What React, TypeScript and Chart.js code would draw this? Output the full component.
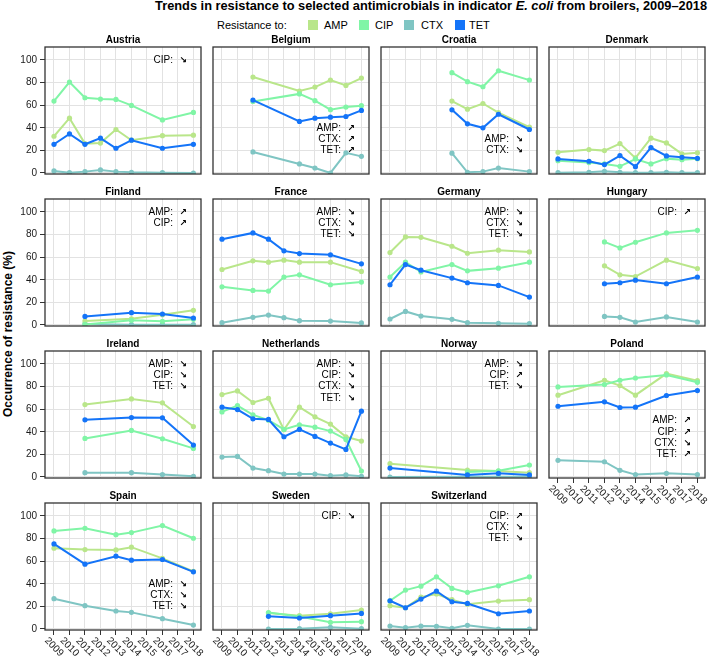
import React, { useEffect, useRef } from "react";
import { Chart, registerables } from "chart.js";
Chart.register(...registerables);

// ---------------- data ----------------
const years = [2009, 2010, 2011, 2012, 2013, 2014, 2015, 2016, 2017, 2018];
const countries = [
  "Austria", "Belgium", "Croatia", "Denmark",
  "Finland", "France", "Germany", "Hungary",
  "Ireland", "Netherlands", "Norway", "Poland",
  "Spain", "Sweden", "Switzerland",
];
const antimicrobials = ["AMP", "CIP", "CTX", "TET"];
const seriesColors = ["#b9e68a", "#80f5a6", "#7fc5c3", "#1474f8"];
const yTickValues = [0, 20, 40, 60, 80, 100];

// values per year 2009..2018 (null = not tested)
const ampAustria = [32.5, 48.5, 26, 26.5, 38.5, 29, null, 33, null, 33.5];
const cipAustria = [63.6, 80.5, 66.6, 65.4, 65.1, 59.8, null, 47, null, 53.6];
const ctxAustria = [1.8, 0.3, 1.2, 2.7, 1.2, 0.6, null, 0.3, null, 0];
const tetAustria = [25.4, 34.6, 25.4, 30.8, 21.9, 29, null, 21.9, null, 25.4];

const ampBelgium = [null, null, 84.9, null, null, 72.5, 76, 82.2, 77.5, 84];
const cipBelgium = [null, null, 63.3, null, null, 70, 64, 56, 58.3, 59.6];
const ctxBelgium = [null, null, 18.6, null, null, 8, 4.4, 0, 17.8, 14.7];
const tetBelgium = [null, null, 64.5, null, null, 45.6, 48.5, 49.4, 50, 55.4];

const ampCroatia = [null, null, null, null, 63.6, 56.5, 61.5, 53.5, null, 40.5];
const cipCroatia = [null, null, null, null, 88.8, 80.8, 76.3, 90.5, null, 82.2];
const ctxCroatia = [null, null, null, null, 17.5, 0.6, 1.2, 4.4, null, 1.2];
const tetCroatia = [null, null, null, null, 55.9, 43.5, 40, 52, null, 38.5];

const ampDenmark = [18.3, null, 20.7, 19.8, 26, 13.3, 30.8, 26.6, 16.9, 17.8];
const cipDenmark = [10.9, null, 9.2, 8, 5.9, 12.4, 8, 12.7, 11.8, 12.7];
const ctxDenmark = [0.3, null, 0.6, 1.5, 0.6, 0.3, 0.3, 0.6, 0.3, 0.3];
const tetDenmark = [12.4, null, 10.4, 7.4, 15.4, 5.6, 22.5, 15.1, 13.9, 13];

const ampFinland = [null, null, 3.5, null, null, 5.5, null, 9, null, 13];
const cipFinland = [null, null, 0.5, null, null, 4.1, null, 3.2, null, 5];
const ctxFinland = [null, null, 0.9, null, null, 0.3, null, 0.3, null, 0.3];
const tetFinland = [null, null, 7.6, null, null, 10.9, null, 9.7, null, 6.2];

const ampFrance = [49.1, null, 56.8, 55.6, 57.4, 55.6, null, 55.6, null, 47.4];
const cipFrance = [33.8, null, 30.6, 30, 42.4, 44.4, null, 35.6, null, 38];
const ctxFrance = [2, null, 6.8, 8.8, 6.5, 3.8, null, 3.5, null, 1.8];
const tetFrance = [75.9, null, 81.5, 75.9, 65.6, 63.2, null, 62.1, null, 54.1];

const ampGermany = [64.1, 77.9, 77.6, null, 69.7, 63.5, null, 66.2, null, 64.7];
const cipGermany = [42.4, 55.6, 47, null, 53.5, 47.9, null, 50.3, null, 55.6];
const ctxGermany = [5.3, 12, 7.9, null, 5, 2, null, 1.5, null, 1.2];
const tetGermany = [35.6, 53.5, 48.5, null, 41.5, 37.4, null, 35, null, 24.7];

const ampHungary = [null, null, null, 52.4, 44.4, 42.9, null, 57.4, null, 50];
const cipHungary = [null, null, null, 73.5, 68.2, 73.2, null, 81.5, null, 83.8];
const ctxHungary = [null, null, null, 7.6, 6.8, 2.6, null, 7.1, null, 2.6];
const tetHungary = [null, null, null, 36.5, 37.4, 39.7, null, 36.5, null, 42.4];

const ampIreland = [null, null, 64.1, null, null, 69.1, null, 65.6, null, 44.7];
const cipIreland = [null, null, 34.1, null, null, 41.2, null, 33.8, null, 25.3];
const ctxIreland = [null, null, 3.8, null, null, 3.8, null, 2.1, null, 0.6];
const tetIreland = [null, null, 50.6, null, null, 52.6, null, 52.4, null, 28.2];

const ampNetherlands = [72.9, 76.2, 65.9, 69.7, 41.8, 61.8, 53.2, 46.8, 35.6, 31.8];
const cipNetherlands = [57.6, 63.2, 55, 50.3, 42.1, 46.2, 44.1, 40.6, 33.2, 5.3];
const ctxNetherlands = [17.6, 18.2, 7.9, 5.6, 2.6, 2.6, 2.6, 1.2, 1.8, 0.6];
const tetNetherlands = [61.8, 59.7, 51.5, 50.9, 35.6, 42.1, 35.9, 30, 24.4, 58.2];

const ampNorway = [11.8, null, null, null, null, 6.2, null, 5.3, null, 3.8];
const cipNorway = [null, null, null, null, null, 4.5, null, 5.5, null, 10.6];
const ctxNorway = [0, null, null, null, null, 0.3, null, 0.3, null, 0.3];
const tetNorway = [7.9, null, null, null, null, 1.8, null, 3.2, null, 1.8];

const ampPoland = [72.4, null, null, 85.6, 80.9, 72.4, null, 91.5, null, 85.3];
const cipPoland = [79.7, null, null, 81.8, 85.6, 87.6, null, 90.3, null, 83.8];
const ctxPoland = [14.7, null, null, 13.5, 5.9, 2.1, null, 3.2, null, 2.1];
const tetPoland = [62.6, null, null, 66.5, 61.5, 61.8, null, 72.1, null, 76.5];

const ampSpain = [71.5, null, 70.3, null, 70, 72.4, null, 62.5, null, 50.9];
const cipSpain = [86.8, null, 89.1, null, 83.5, 85.3, null, 91.5, null, 80.3];
const ctxSpain = [26.8, null, 20.6, null, 15.9, 14.7, null, 9.1, null, 3.5];
const tetSpain = [75.3, null, 57.4, null, 64.4, 60.9, null, 61.5, null, 50.6];

const ampSweden = [null, null, null, 14.1, null, 11.8, null, 13.5, null, 16.8];
const cipSweden = [null, null, null, 14.5, null, 11, null, 5.9, null, 6.5];
const ctxSweden = [null, null, null, 0, null, 0.3, null, 1.5, null, 0.3];
const tetSweden = [null, null, null, 11.2, null, 9.7, null, 11.8, null, 13.8];

const ampSwitzerland = [20.6, 18.8, 28.2, 31, 25.9, 22, null, 24.7, null, 25.9];
const cipSwitzerland = [25, 34.4, 37.9, 46.2, 35.9, 32.4, null, 38.2, null, 46.2];
const ctxSwitzerland = [2.6, 1.2, 2.6, 2.4, 0.6, 3.2, null, 0, null, 0];
const tetSwitzerland = [25, 18.8, 26.5, 33.5, 24.1, 22.6, null, 13.5, null, 15.9];

const seriesByCountry = [
  [ampAustria, cipAustria, ctxAustria, tetAustria],
  [ampBelgium, cipBelgium, ctxBelgium, tetBelgium],
  [ampCroatia, cipCroatia, ctxCroatia, tetCroatia],
  [ampDenmark, cipDenmark, ctxDenmark, tetDenmark],
  [ampFinland, cipFinland, ctxFinland, tetFinland],
  [ampFrance, cipFrance, ctxFrance, tetFrance],
  [ampGermany, cipGermany, ctxGermany, tetGermany],
  [ampHungary, cipHungary, ctxHungary, tetHungary],
  [ampIreland, cipIreland, ctxIreland, tetIreland],
  [ampNetherlands, cipNetherlands, ctxNetherlands, tetNetherlands],
  [ampNorway, cipNorway, ctxNorway, tetNorway],
  [ampPoland, cipPoland, ctxPoland, tetPoland],
  [ampSpain, cipSpain, ctxSpain, tetSpain],
  [ampSweden, cipSweden, ctxSweden, tetSweden],
  [ampSwitzerland, cipSwitzerland, ctxSwitzerland, tetSwitzerland],
];

// significant trends (↗ increasing, ↘ decreasing)
const trendsAustria = [["CIP", "↘"]];
const trendsBelgium = [["AMP", "↗"], ["CTX", "↗"], ["TET", "↗"]];
const trendsCroatia = [["AMP", "↘"], ["CTX", "↘"]];
const trendsDenmark: string[][] = [];
const trendsFinland = [["AMP", "↗"], ["CIP", "↗"]];
const trendsFrance = [["AMP", "↘"], ["CTX", "↘"], ["TET", "↘"]];
const trendsGermany = [["AMP", "↘"], ["CTX", "↘"], ["TET", "↘"]];
const trendsHungary = [["CIP", "↗"]];
const trendsIreland = [["AMP", "↘"], ["CIP", "↘"], ["TET", "↘"]];
const trendsNetherlands = [["AMP", "↘"], ["CIP", "↘"], ["CTX", "↘"], ["TET", "↘"]];
const trendsNorway = [["AMP", "↘"], ["CIP", "↗"], ["TET", "↘"]];
const trendsPoland = [["AMP", "↗"], ["CIP", "↗"], ["CTX", "↘"], ["TET", "↗"]];
const trendsSpain = [["AMP", "↘"], ["CTX", "↘"], ["TET", "↘"]];
const trendsSweden = [["CIP", "↘"]];
const trendsSwitzerland = [["CIP", "↗"], ["CTX", "↘"], ["TET", "↘"]];

const trendsByCountry = [
  trendsAustria, trendsBelgium, trendsCroatia, trendsDenmark,
  trendsFinland, trendsFrance, trendsGermany, trendsHungary,
  trendsIreland, trendsNetherlands, trendsNorway, trendsPoland,
  trendsSpain, trendsSweden, trendsSwitzerland,
];
const trendsAtBottom = ["Belgium", "Croatia", "Poland", "Spain"];

// ---------------- layout ----------------
const COL_X = [45, 213, 381, 549];
const ROW_Y = [47, 199, 351, 503];
const BOX_W = 157;
const BOX_H = 127;
const FONT = "'Liberation Sans', Arial, Helvetica, sans-serif";
const drawOrder = [2, 1, 3, 0]; // AMP, CIP, CTX, TET (TET on top)

function Panel({ index }: { index: number }) {
  const ref = useRef<HTMLCanvasElement>(null);
  const row = Math.floor(index / 4);
  const col = index % 4;
  const hasY = col === 0;
  const hasX = row === 3 || index === 11;
  const padL = hasY ? 45 : 4;
  const padR = 3;
  const padT = 16;
  const padB = hasX ? 31 : 4;
  const w = BOX_W + padL + padR;
  const h = BOX_H + padT + padB;
  const left = COL_X[col] - padL;
  const top = ROW_Y[row] - padT;

  useEffect(() => {
    const canvas = ref.current;
    if (!canvas) return;
    const country = countries[index];
    const series = seriesByCountry[index];
    const trends = trendsByCountry[index];
    const atBottom = trendsAtBottom.includes(country);

    const panelPlugin = {
      id: "panelDecor",
      afterDraw(chart: any) {
        const ctx = chart.ctx as CanvasRenderingContext2D;
        const ca = chart.chartArea;
        const xs = chart.scales.x;
        const ys = chart.scales.y;
        ctx.save();
        // box
        ctx.strokeStyle = "#333333";
        ctx.lineWidth = 1.3;
        ctx.strokeRect(ca.left, ca.top, ca.right - ca.left, ca.bottom - ca.top);
        // title
        ctx.fillStyle = "#000";
        ctx.font = `bold 10px ${FONT}`;
        ctx.textAlign = "center";
        ctx.textBaseline = "middle";
        ctx.fillText(country, (ca.left + ca.right) / 2, ca.top - 7);
        // y labels
        ctx.fillStyle = "#1a1a1a";
        ctx.font = `10px ${FONT}`;
        if (hasY) {
          ctx.textAlign = "right";
          for (const v of yTickValues) {
            ctx.fillText(String(v), ca.left - 8, ys.getPixelForValue(v));
          }
        }
        // x labels
        if (hasX) {
          ctx.textAlign = "center";
          for (const yr of years) {
            ctx.save();
            ctx.translate(xs.getPixelForValue(yr), ca.bottom + 17);
            ctx.rotate(Math.PI / 4);
            ctx.fillText(String(yr), 0, 0);
            ctx.restore();
          }
        }
        // trend annotations
        const n = trends.length;
        trends.forEach((t, k) => {
          const v = atBottom ? 20 + 10 * (n - 1 - k) : 100 - 10 * k;
          const py = ys.getPixelForValue(v);
          ctx.fillStyle = "#000";
          ctx.font = `10px ${FONT}`;
          ctx.textAlign = "right";
          ctx.fillText(t[0] + ":", ca.left + 128, py);
          ctx.font = `bold 9px 'DejaVu Sans', sans-serif`;
          ctx.textAlign = "center";
          ctx.fillText(t[1], ca.left + 138, py + 0.5);
        });
        ctx.restore();
      },
    };

    const chart = new Chart(canvas, {
      type: "line",
      data: {
        datasets: antimicrobials.map((name, k) => ({
          label: name,
          data: years
            .map((yr, j) => ({ x: yr, y: series[k][j] as number | null }))
            .filter((p) => p.y !== null),
          borderColor: seriesColors[k],
          backgroundColor: seriesColors[k],
          pointBackgroundColor: seriesColors[k],
          pointBorderColor: seriesColors[k],
          pointBorderWidth: 0,
          pointRadius: 2.6,
          borderWidth: 2,
          tension: 0,
          order: drawOrder[k],
        })),
      },
      options: {
        responsive: false,
        animation: false,
        events: [],
        layout: { padding: { left: 0, right: padR, top: padT, bottom: 0 } },
        plugins: {
          legend: { display: false },
          tooltip: { enabled: false },
          title: { display: false },
        },
        scales: {
          x: {
            type: "linear",
            position: "bottom",
            min: 2008.42,
            max: 2018.49,
            afterBuildTicks: (s: any) => {
              s.ticks = years.map((v) => ({ value: v }));
            },
            afterFit: (s: any) => {
              s.height = padB;
            },
            ticks: { display: false },
            grid: {
              color: "#e2e2e2",
              lineWidth: 1,
              drawTicks: hasX,
              tickLength: 5,
              tickColor: "#333333",
              tickWidth: 1,
            },
            border: { display: false },
          },
          y: {
            type: "linear",
            position: "left",
            min: -0.9,
            max: 111.5,
            afterBuildTicks: (s: any) => {
              s.ticks = yTickValues.map((v) => ({ value: v }));
            },
            afterFit: (s: any) => {
              s.width = padL;
            },
            ticks: { display: false },
            grid: {
              color: "#e2e2e2",
              lineWidth: 1,
              drawTicks: hasY,
              tickLength: 5,
              tickColor: "#333333",
              tickWidth: 1,
            },
            border: { display: false },
          },
        },
      } as any,
      plugins: [panelPlugin],
    });
    return () => chart.destroy();
  }, []);

  return (
    <canvas
      ref={ref}
      width={w}
      height={h}
      style={{ position: "absolute", left, top, width: w, height: h }}
    />
  );
}

const legendSquareX = [308, 359, 404, 455];
const legendTextX = [324, 375, 421, 469];

export default function App() {
  return (
    <div
      style={{
        position: "absolute",
        left: 0,
        top: 0,
        width: 709,
        height: 661,
        overflow: "hidden",
        background: "#fff",
        fontFamily: FONT,
      }}
    >
      <div
        style={{
          position: "absolute",
          right: 2,
          top: -1,
          fontSize: 12.8,
          fontWeight: "bold",
          lineHeight: "14px",
          whiteSpace: "nowrap",
          color: "#000",
        }}
      >
        Trends in resistance to selected antimicrobials in indicator <i>E. coli</i> from broilers, 2009–2018
      </div>
      <div
        style={{
          position: "absolute",
          left: 217,
          top: 18,
          fontSize: 11,
          lineHeight: "14px",
          whiteSpace: "nowrap",
          color: "#000",
        }}
      >
        Resistance to:
      </div>
      {antimicrobials.map((name, k) => (
        <React.Fragment key={name}>
          <div
            style={{
              position: "absolute",
              left: legendSquareX[k],
              top: 20,
              width: 10,
              height: 10,
              background: seriesColors[k],
            }}
          />
          <div
            style={{
              position: "absolute",
              left: legendTextX[k],
              top: 18,
              fontSize: 11,
              lineHeight: "14px",
              whiteSpace: "nowrap",
              color: "#000",
            }}
          >
            {name}
          </div>
        </React.Fragment>
      ))}
      <div
        style={{
          position: "absolute",
          left: 8,
          top: 334,
          width: 300,
          textAlign: "center",
          fontSize: 12,
          fontWeight: "bold",
          lineHeight: "14px",
          whiteSpace: "nowrap",
          transform: "translate(-50%, -50%) rotate(-90deg)",
          color: "#000",
        }}
      >
        Occurrence of resistance (%)
      </div>
      {countries.map((c, i) => (
        <Panel key={c} index={i} />
      ))}
    </div>
  );
}
